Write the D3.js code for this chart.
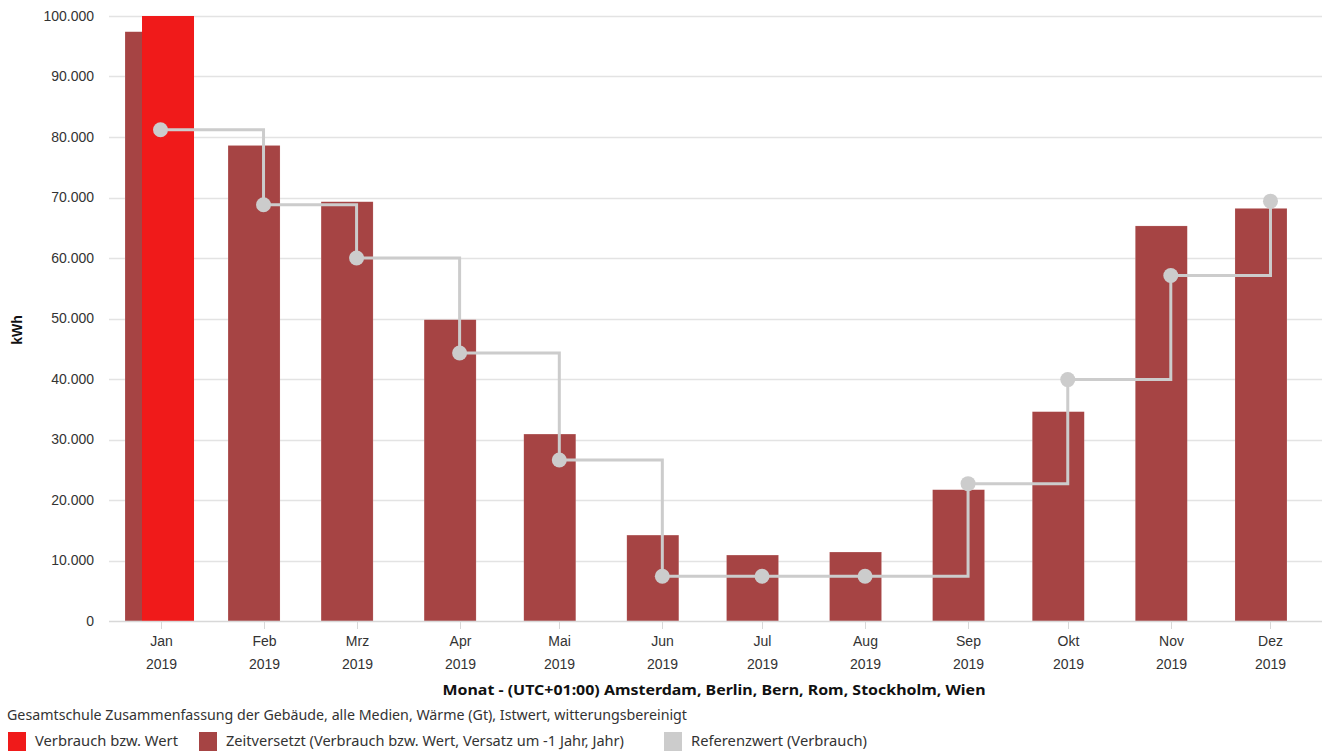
<!DOCTYPE html>
<html><head><meta charset="utf-8">
<script src="https://cdn.jsdelivr.net/npm/d3@7"></script>
<style>body{margin:0;background:#fff}svg{display:block}</style>
</head><body><svg id="c" width="1322" height="751"></svg>
<script>
const months = ["Jan","Feb","Mrz","Apr","Mai","Jun","Jul","Aug","Sep","Okt","Nov","Dez"];
const year = "2019";
const verbrauch = [100000,null,null,null,null,null,null,null,null,null,null,null];
const zeitversetzt = [97400,78600,69300,49800,30900,14200,10900,11400,21700,34600,65300,68200];
const referenz = [81200,68800,60000,44300,26600,7400,7400,7400,22700,39900,57100,69400];
const yTicks = [0,10000,20000,30000,40000,50000,60000,70000,80000,90000,100000];
const legendTitle = "Gesamtschule Zusammenfassung der Gebäude, alle Medien, Wärme (Gt), Istwert, witterungsbereinigt";
const legendItems = ["Verbrauch bzw. Wert","Zeitversetzt (Verbrauch bzw. Wert, Versatz um -1 Jahr, Jahr)","Referenzwert (Verbrauch)"];
const xTitle = "Monat - (UTC+01:00) Amsterdam, Berlin, Bern, Rom, Stockholm, Wien";
const yTitle = "kWh";

const cRed = "#f01a1a", cDark = "#a64444", cGrey = "#cccccc";
const svg = d3.select("#c");
const L = 109, R = 1322, T = 16, B = 621;
const x = d3.scaleTime().domain([new Date(2019,0,1), new Date(2020,0,1)]).range([L,R]);
const y = d3.scaleLinear().domain([0,100000]).range([B,T]);
const mid = i => new Date(2019,i,16,12);
const cx = i => x(mid(i));
const bw = 52;

// grid
svg.append("g").selectAll("line").data(yTicks.filter(d=>d>0)).join("line")
  .attr("x1",L).attr("x2",R).attr("y1",d=>Math.round(y(d))+0.5).attr("y2",d=>Math.round(y(d))+0.5)
  .attr("stroke","#e3e3e3").attr("stroke-width",1.5);

// y axis labels
const yAxis = d3.axisLeft(y).tickValues(yTicks).tickSize(0).tickPadding(0)
  .tickFormat(d => d3.format(",")(d).replace(/,/g,"."));
const ga = svg.append("g").attr("transform",`translate(94,0)`).call(yAxis);
ga.select(".domain").remove();
ga.selectAll("text").attr("font-family","Liberation Sans, Arial").attr("font-size",14).attr("fill","#333");

// clip
svg.append("clipPath").attr("id","pc").append("rect").attr("x",L).attr("y",T).attr("width",R-L).attr("height",B-T);
const plot = svg.append("g").attr("clip-path","url(#pc)");

// zeitversetzt bars
plot.append("g").selectAll("rect").data(zeitversetzt).join("rect")
  .attr("x",(d,i)=>cx(i)-35.5).attr("width",bw)
  .attr("y",d=>y(d)).attr("height",d=>B-y(d))
  .attr("fill",cDark).attr("stroke","#fff").attr("stroke-opacity",0.3).attr("stroke-width",0.5);
// verbrauch bars
plot.append("g").selectAll("rect").data(verbrauch.map((v,i)=>({v,i})).filter(d=>d.v!=null)).join("rect")
  .attr("x",d=>cx(d.i)-18.5).attr("width",bw)
  .attr("y",d=>y(d.v)).attr("height",d=>B-y(d.v))
  .attr("fill",cRed);

// x axis line
svg.append("line").attr("x1",L).attr("x2",R).attr("y1",B+0.5).attr("y2",B+0.5).attr("stroke","#d8d8d8").attr("stroke-width",1.5);
const xa = svg.append("g");
months.forEach((m,i)=>{
  const xx = Math.round(cx(i))+0.5;
  xa.append("line").attr("x1",xx).attr("x2",xx).attr("y1",B).attr("y2",B+8).attr("stroke","#d8d8d8").attr("stroke-width",1);
  xa.append("text").attr("x",xx).attr("y",646).attr("text-anchor","middle").attr("font-family","Liberation Sans, Arial").attr("font-size",14).attr("fill","#333").text(m);
  xa.append("text").attr("x",xx).attr("y",669).attr("text-anchor","middle").attr("font-family","Liberation Sans, Arial").attr("font-size",14).attr("fill","#333").text(year);
});

// step line
const line = d3.line().x((d,i)=>cx(i)).y(d=>y(d)).curve(d3.curveStepAfter);
svg.append("path").attr("d",line(referenz)).attr("fill","none").attr("stroke",cGrey).attr("stroke-width",3);
svg.append("g").selectAll("circle").data(referenz).join("circle")
  .attr("cx",(d,i)=>cx(i)).attr("cy",d=>y(d)).attr("r",7.5).attr("fill",cGrey);

// titles
svg.append("text").attr("transform","translate(22,330) rotate(-90)").attr("text-anchor","middle")
  .attr("font-family","Liberation Sans, Arial").attr("font-weight","bold").attr("font-size",14).attr("fill","#111").text(yTitle);
svg.append("text").attr("x",714).attr("y",695).attr("text-anchor","middle")
  .attr("font-family","Noto Sans").attr("font-weight","bold").attr("font-size",15).attr("fill","#111")
  .attr("textLength",543).attr("lengthAdjust","spacingAndGlyphs").text(xTitle);
svg.append("text").attr("x",7).attr("y",720)
  .attr("font-family","Noto Sans").attr("font-size",14).attr("fill","#333")
  .attr("textLength",680).attr("lengthAdjust","spacingAndGlyphs").text(legendTitle);

// legend
const lx = [8,199,664], lc = [cRed,cDark,cGrey], lw = [143,398,176];
legendItems.forEach((t,i)=>{
  svg.append("rect").attr("x",lx[i]).attr("y",732).attr("width",18).attr("height",19).attr("fill",lc[i]);
  svg.append("text").attr("x",lx[i]+27).attr("y",746).attr("font-family","Noto Sans").attr("font-size",14).attr("fill","#333")
    .attr("textLength",lw[i]).attr("lengthAdjust","spacingAndGlyphs").text(t);
});
</script></body></html>
